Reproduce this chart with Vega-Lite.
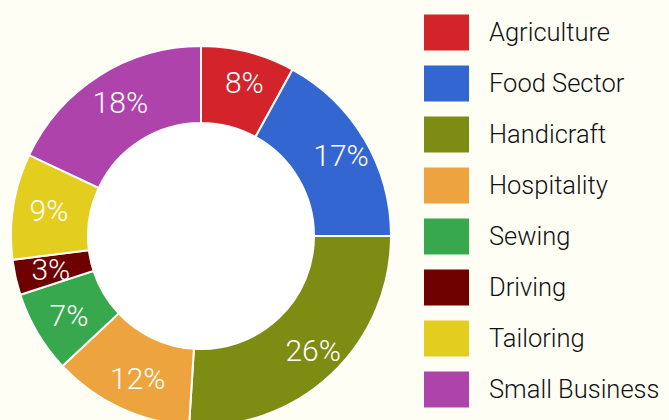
{
  "$schema": "https://vega.github.io/schema/vega-lite/v6.json",
  "width": 669,
  "height": 420,
  "autosize": {"type": "none"},
  "padding": 0,
  "background": "#FEFEF4",
  "config": {"view": {"stroke": null}, "font": "Roboto"},
  "data": {
    "values": [
      {"sector": "Agriculture", "share": 0.08, "order": 1},
      {"sector": "Food Sector", "share": 0.17, "order": 2},
      {"sector": "Handicraft", "share": 0.26, "order": 3},
      {"sector": "Hospitality", "share": 0.12, "order": 4},
      {"sector": "Sewing", "share": 0.07, "order": 5},
      {"sector": "Driving", "share": 0.03, "order": 6},
      {"sector": "Tailoring", "share": 0.09, "order": 7},
      {"sector": "Small Business", "share": 0.18, "order": 8}
    ]
  },
  "encoding": {
    "theta": {"field": "share", "type": "quantitative", "stack": true},
    "order": {"field": "order", "type": "quantitative"},
    "x": {"value": 201},
    "y": {"value": 236}
  },
  "layer": [
    {
      "mark": {"type": "arc", "outerRadius": 190, "innerRadius": 113, "stroke": "white", "strokeWidth": 2},
      "encoding": {
        "color": {
          "field": "sector",
          "type": "nominal",
          "scale": {
            "domain": ["Agriculture", "Food Sector", "Handicraft", "Hospitality", "Sewing", "Driving", "Tailoring", "Small Business"],
            "range": ["#D3232B", "#3366D0", "#7D8C12", "#EDA43E", "#38A84E", "#6E0000", "#E3CE20", "#AD43AB"]
          },
          "legend": {
            "orient": "none",
            "legendX": 424,
            "legendY": 10,
            "title": null,
            "symbolType": "M-1,-0.8H1V0.8H-1Z",
            "symbolSize": 2025,
            "symbolStrokeWidth": 0,
            "symbolOpacity": 1,
            "labelFontSize": 25.5,
            "labelFont": "Roboto",
            "labelFontWeight": 300,
            "labelColor": "#111111",
            "labelOffset": 20,
            "labelBaseline": "middle",
            "labelDy": 2,
            "rowPadding": 10,
            "labelLimit": 300
          }
        }
      }
    },
    {
      "mark": {"type": "arc", "radius": 112, "theta": 0, "theta2": 6.2832, "fill": "white", "stroke": null},
      "encoding": {"theta": null, "order": null}
    },
    {
      "mark": {"type": "text", "radius": 158, "fontSize": 30, "fontWeight": 300, "fill": "white", "baseline": "middle", "align": "center", "font": "Roboto"},
      "encoding": {
        "x": {"value": 205},
        "y": {"value": 237},
        "text": {"field": "share", "type": "quantitative", "format": ".0%"}
      }
    }
  ]
}
